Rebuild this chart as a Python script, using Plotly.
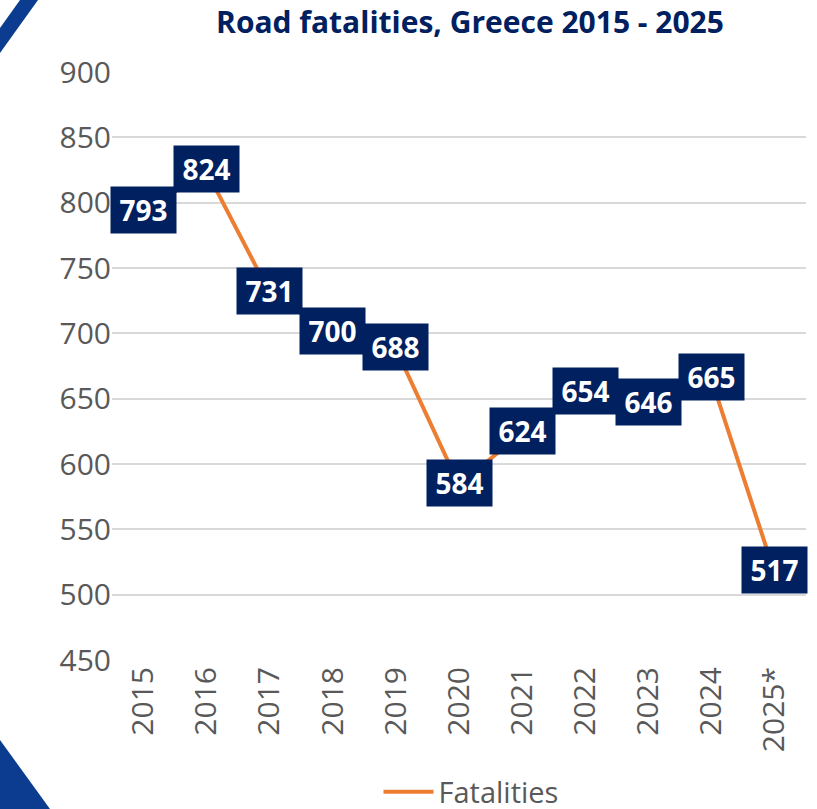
import plotly.graph_objects as go

years = ["2015", "2016", "2017", "2018", "2019", "2020", "2021", "2022", "2023", "2024", "2025*"]
fatalities = [793, 824, 731, 700, 688, 584, 624, 654, 646, 665, 517]
y_ticks = [450, 500, 550, 600, 650, 700, 750, 800, 850, 900]

W, H = 817, 809
L, R, T, B = 112, 11, 72, 149
pw, ph = W - L - R, H - T - B

def px(x):
    return (x - L) / pw

def py(y):
    return (H - B - y) / ph

NAVY = "#002060"
ORANGE = "#ED7D31"
GRAY = "#595959"
FONT = "Open Sans"

fig = go.Figure()
fig.add_trace(go.Scatter(
    x=years, y=fatalities, mode="lines", name="Fatalities",
    line=dict(color=ORANGE, width=4),
))

# category positions (index) used for the value boxes
for i, v in enumerate(fatalities):
    fig.add_annotation(
        x=i, y=v, xref="x", yref="y", text=f"<b>{v}</b>", showarrow=False,
        xanchor="center", yanchor="middle", yshift=2,
        font=dict(family=FONT, size=28, color="white"),
        bgcolor=NAVY, borderpad=1, width=63, height=44,
    )

# decorative corner shapes
fig.add_shape(type="path", xref="paper", yref="paper", layer="above",
              path=f"M {px(20)} {py(0)} L {px(38)} {py(0)} L {px(0)} {py(53)} L {px(0)} {py(28)} Z",
              fillcolor="#0B3C8F", line=dict(width=0))
fig.add_shape(type="path", xref="paper", yref="paper", layer="above",
              path=f"M {px(0)} {py(740)} L {px(50)} {py(809)} L {px(0)} {py(809)} Z",
              fillcolor="#0B3C8F", line=dict(width=0))

fig.update_layout(
    width=W, height=H,
    margin=dict(l=L, r=R, t=T, b=B, autoexpand=False),
    paper_bgcolor="white", plot_bgcolor="white",
    title=dict(text="<b>Road fatalities, Greece 2015 - 2025</b>",
               x=px(470), xref="paper", xanchor="center",
               y=1 - 22 / H, yref="container", yanchor="middle",
               font=dict(family=FONT, size=30, color=NAVY)),
    showlegend=True,
    legend=dict(orientation="h", x=px(471), xanchor="center", y=py(792), yanchor="middle",
                itemwidth=50,
                font=dict(family=FONT, size=29, color=GRAY), bgcolor="rgba(0,0,0,0)"),
    xaxis=dict(type="category", categoryorder="array", categoryarray=years,
               range=[-0.5, len(years) - 0.5], autorange=False,
               tickangle=-90, showgrid=False, showline=False,
               ticks="", tickfont=dict(family=FONT, size=30, color=GRAY)),
    yaxis=dict(range=[450, 900], autorange=False, tickvals=y_ticks, showgrid=True,
               gridcolor="#D9D9D9", gridwidth=1.5, zeroline=False, showline=False, ticks="",
               tickfont=dict(family=FONT, size=30, color=GRAY)),
)

fig.write_html("out.html", config={"displayModeBar": False},
               post_script="document.body.style.margin='0';document.body.style.overflow='hidden';")
